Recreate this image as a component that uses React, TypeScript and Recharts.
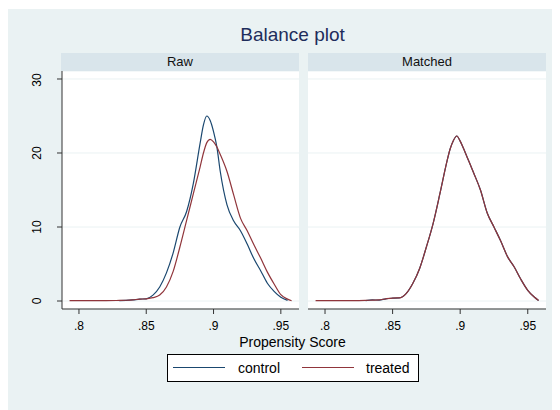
import { LineChart, Line, XAxis, YAxis, CartesianGrid } from "recharts";

// kernel density estimates
const scores = [
  0.793, 0.8, 0.81, 0.82, 0.83, 0.835, 0.84, 0.845, 0.85, 0.855, 0.86, 0.865,
  0.87, 0.875, 0.88, 0.885, 0.89, 0.8925, 0.895, 0.8975, 0.9, 0.9025, 0.905,
  0.91, 0.915, 0.92, 0.925, 0.93, 0.935, 0.94, 0.945, 0.95, 0.955, 0.958,
];
const rawControl = [
  null, null, null, null, 0.05, 0.08, 0.15, 0.25, 0.3, 0.8, 1.9, 3.8, 6.5,
  10.0, 12.1, 15.9, 21.3, 23.8, 25.0, 24.4, 22.9, 20.8, 17.5, 13.0, 10.8, 9.5,
  7.7, 5.7, 4.1, 2.4, 1.3, 0.5, 0.08, null,
];
const rawTreated = [
  0.05, 0.05, 0.05, 0.05, 0.08, 0.1, 0.15, 0.25, 0.3, 0.45, 0.8, 1.9, 4.0,
  7.3, 10.9, 14.5, 18.1, 20.0, 21.4, 21.85, 21.5, 20.8, 19.8, 17.5, 14.3, 11.2,
  9.5, 7.6, 5.8, 3.9, 2.3, 0.85, 0.25, 0.03,
];
const matchedControl = [
  null, null, null, null, 0.05, 0.15, 0.12, 0.3, 0.38, 0.42, 1.0, 2.4, 4.4,
  7.3, 10.5, 14.5, 18.7, 20.5, 21.7, 22.3, 21.6, 20.6, 19.5, 17.3, 15.0, 11.9,
  10.0, 8.1, 6.0, 4.6, 2.9, 1.45, 0.5, 0.08,
];
const matchedTreated = [
  0.05, 0.05, 0.05, 0.05, 0.08, 0.12, 0.15, 0.3, 0.4, 0.42, 1.0, 2.4, 4.4,
  7.3, 10.5, 14.5, 18.7, 20.5, 21.7, 22.3, 21.6, 20.6, 19.5, 17.3, 15.0, 11.9,
  10.0, 8.1, 6.0, 4.6, 2.9, 1.45, 0.5, 0.08,
];
const xTicks = [0.8, 0.85, 0.9, 0.95];
const yTicks = [0, 10, 20, 30];
const seriesNames = ["control", "treated"];
const panelTitles = ["Raw", "Matched"];

const COLORS = ["#1a476f", "#90353b"];
const FONT = "'Liberation Sans', Arial, Helvetica, sans-serif";
const X_DOMAIN = [0.7874, 0.9635];
const Y_DOMAIN = [-1.08, 31.08];
const Y_AXIS_W = 42;

const rawData = scores.map((s, i) => ({
  score: s,
  control: rawControl[i],
  treated: rawTreated[i],
}));
const matchedData = scores.map((s, i) => ({
  score: s,
  control: matchedControl[i],
  treated: matchedTreated[i],
}));

const fmtX = (v: number) => String(v).replace(/^0/, "");

// rotated tick labels, baseline well left of the axis line
const RotatedTick = (props: any) => {
  const { y, payload } = props;
  const x = Y_AXIS_W - 21;
  return (
    <text
      x={x}
      y={y}
      transform={`rotate(-90, ${x}, ${y})`}
      textAnchor="middle"
      fontSize={12}
      fontFamily={FONT}
      fill="#000"
    >
      {payload.value}
    </text>
  );
};

const Panel = ({ data, showY, width }: { data: any[]; showY: boolean; width: number }) => (
  <LineChart width={width} height={268} data={data} margin={{ top: 0, right: 0, bottom: 0, left: 0 }}>
    <CartesianGrid vertical={false} stroke="#eaf2f3" fill="#fff" />
    <XAxis
      dataKey="score"
      type="number"
      domain={X_DOMAIN}
      ticks={xTicks}
      tickFormatter={fmtX}
      allowDataOverflow
      height={30}
      tickSize={5}
      tickMargin={7}
      stroke="#333"
      tick={{ fontSize: 12, fill: "#000", fontFamily: FONT }}
    />
    <YAxis
      type="number"
      domain={Y_DOMAIN}
      ticks={yTicks}
      allowDataOverflow
      hide={!showY}
      width={showY ? Y_AXIS_W : 0}
      tickSize={5}
      tickMargin={5}
      stroke="#333"
      tick={<RotatedTick />}
    />
    {seriesNames.map((name, i) => (
      <Line
        key={name}
        dataKey={name}
        type="monotone"
        stroke={COLORS[i]}
        strokeWidth={1.2}
        dot={false}
        isAnimationActive={false}
      />
    ))}
  </LineChart>
);

const Header = ({ left, label }: { left: number; label: string }) => (
  <div
    style={{
      position: "absolute",
      left,
      top: 44,
      width: 238,
      height: 18,
      background: "#d9e5eb",
      fontFamily: FONT,
      fontSize: 13,
      lineHeight: "18px",
      textAlign: "center",
      color: "#111",
    }}
  >
    {label}
  </div>
);

export default function App() {
  return (
    <div
      style={{
        position: "relative",
        width: 553,
        height: 401,
        marginLeft: -1,
        marginTop: 1,
        background: "#eaf2f3",
        fontFamily: FONT,
      }}
    >
      <div
        style={{
          position: "absolute",
          left: 0,
          width: 571,
          top: 15,
          textAlign: "center",
          fontSize: 19,
          color: "#1e2d5b",
        }}
      >
        Balance plot
      </div>
      <Header left={54} label={panelTitles[0]} />
      <Header left={301} label={panelTitles[1]} />
      <div style={{ position: "absolute", left: 13, top: 62 }}>
        <Panel data={rawData} showY width={279} />
      </div>
      <div style={{ position: "absolute", left: 301, top: 62 }}>
        <Panel data={matchedData} showY={false} width={238} />
      </div>
      <div
        style={{
          position: "absolute",
          left: 0,
          width: 571,
          top: 325,
          textAlign: "center",
          fontSize: 14,
          color: "#000",
        }}
      >
        Propensity Score
      </div>
      <svg
        width={252}
        height={28}
        style={{ position: "absolute", left: 160, top: 345 }}
      >
        <rect x={0.5} y={0.5} width={251} height={27} fill="#fff" stroke="#000" />
        {seriesNames.map((name, i) => (
          <g key={name}>
            <line
              x1={6 + i * 129}
              x2={58 + i * 129}
              y1={13.5}
              y2={13.5}
              stroke={COLORS[i]}
              strokeWidth={1.2}
            />
            <text x={71 + i * 128} y={19} fontSize={14} fontFamily={FONT} fill="#000">
              {name}
            </text>
          </g>
        ))}
      </svg>
    </div>
  );
}
